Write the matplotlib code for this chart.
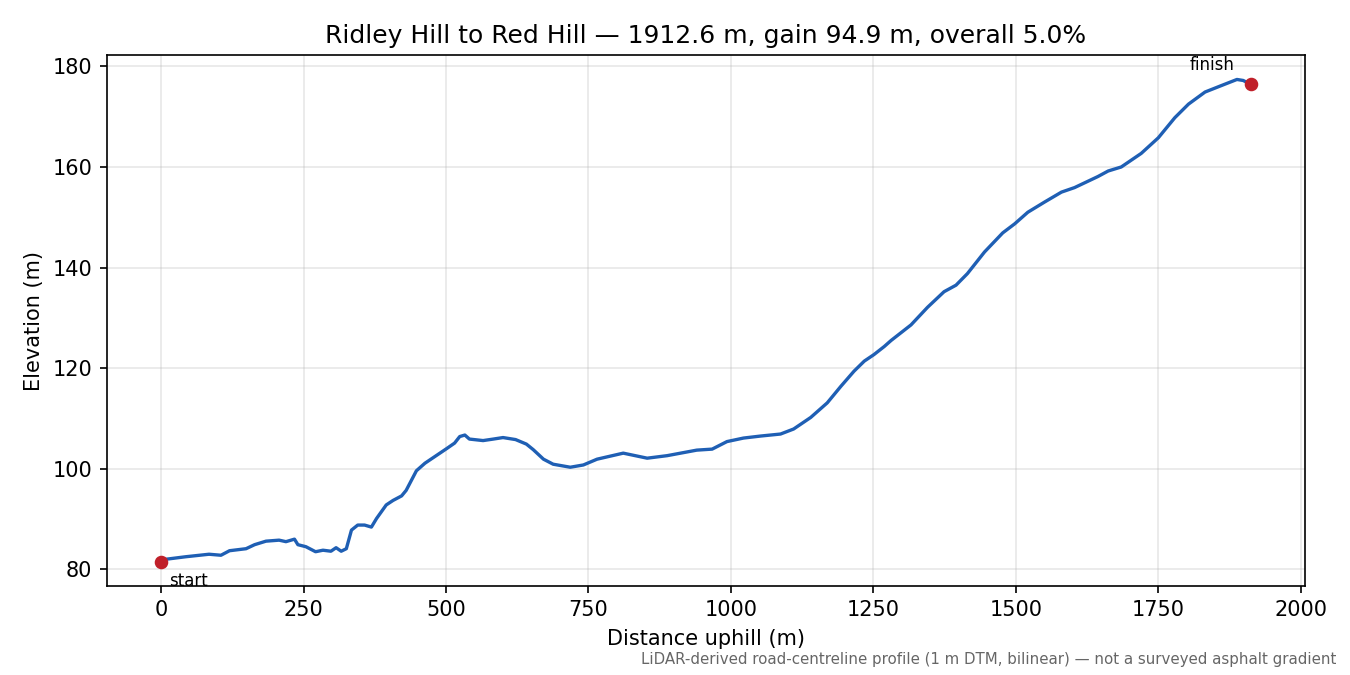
"""Elevation profile, Ridley Hill to Red Hill."""
import matplotlib
matplotlib.use("Agg")
import matplotlib.pyplot as plt

# distance along road (m) and elevation (m)
distance = [
    0, 8, 43, 84, 105, 120, 149, 164, 184, 207, 219, 234, 240, 254, 271,
    284, 298, 307, 316, 325, 334, 345, 357, 369, 378, 395, 407, 422, 430,
    448, 463, 501, 515, 524, 533, 541, 565, 583, 600, 622, 641, 653, 671,
    688, 718, 741, 765, 811, 853, 888, 940, 967, 993, 1022, 1052, 1087,
    1110, 1140, 1169, 1193, 1216, 1234, 1251, 1269, 1281, 1316, 1345, 1374,
    1395, 1415, 1445, 1477, 1498, 1521, 1550, 1580, 1603, 1644, 1662, 1685,
    1720, 1750, 1779, 1803, 1832, 1861, 1888, 1899, 1912.6,
]
elevation = [
    81.5, 82.0, 82.5, 83.0, 82.8, 83.7, 84.1, 84.9, 85.6, 85.8, 85.5, 86.0,
    84.9, 84.5, 83.5, 83.8, 83.6, 84.3, 83.6, 84.1, 87.8, 88.8, 88.8, 88.4,
    90.1, 92.8, 93.7, 94.6, 95.7, 99.6, 101.1, 104.0, 105.1, 106.4, 106.7,
    105.9, 105.6, 105.9, 106.2, 105.8, 104.9, 103.8, 101.9, 100.9, 100.3,
    100.75, 101.9, 103.1, 102.1, 102.6, 103.7, 103.9, 105.4, 106.1, 106.5,
    106.9, 107.9, 110.2, 113.1, 116.4, 119.4, 121.4, 122.7, 124.3, 125.5,
    128.6, 132.1, 135.2, 136.5, 138.8, 143.1, 146.9, 148.7, 151.0, 153.0,
    155.0, 155.9, 158.1, 159.2, 160.0, 162.7, 165.8, 169.8, 172.5, 174.9,
    176.2, 177.4, 177.2, 176.4,
]

title = "Ridley Hill to Red Hill \u2014 1912.6 m, gain 94.9 m, overall 5.0%"
note = ("LiDAR-derived road-centreline profile (1 m DTM, bilinear) "
        "\u2014 not a surveyed asphalt gradient")

fig, ax = plt.subplots(figsize=(9, 4.5), dpi=150)
fig.subplots_adjust(left=0.079, right=0.967, top=0.918, bottom=0.132)

ax.plot(distance, elevation, color="#1f5fb4", linewidth=1.6)

# start / finish markers
ax.plot([distance[0], distance[-1]], [elevation[0], elevation[-1]],
        "o", color="#c0202a", markersize=5.5, zorder=3)
ax.annotate("start", (distance[0], elevation[0]), xytext=(4, -5),
            textcoords="offset points", ha="left", va="top", fontsize=8)
ax.annotate("finish", (distance[-1], elevation[-1]), xytext=(-8, 5),
            textcoords="offset points", ha="right", va="bottom", fontsize=8)

ax.set_title(title, fontsize=12)
ax.set_xlabel("Distance uphill (m)")
ax.set_ylabel("Elevation (m)")
ax.grid(True, alpha=0.3)

fig.text(0.99, 0.012, note, ha="right", va="bottom", fontsize=7.2,
         color="#666666")

fig.savefig("out.png")
